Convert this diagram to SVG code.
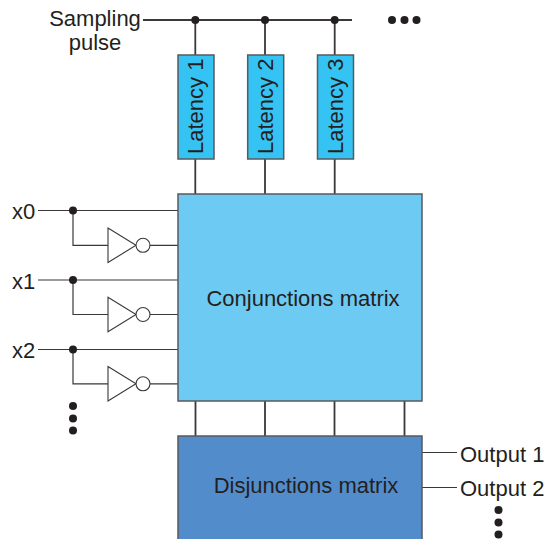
<svg xmlns="http://www.w3.org/2000/svg" width="544" height="539" viewBox="0 0 544 539">
<style>
text{font-family:"Liberation Sans",Arial,sans-serif;font-size:22px;fill:#231f20}
.w{fill:none;stroke:#3a3839;stroke-width:1.8}
.t{fill:none;stroke:#3a3839;stroke-width:1.2}
.d{fill:#231f20;stroke:none}
.l{fill:#35c3f3;stroke:#58595b;stroke-width:1.5}
.g{fill:#fff;stroke:#3a3839;stroke-width:1.1}
</style>
<defs>
<g id="inv"><path class="g" d="M108 228V262.500L136 245.300Z"/><circle class="g" cx="143" cy="245.300" r="7"/></g>
</defs>
<g id="connectors">
<path class="w" d="M143 20H352M195.300 20V55M265 20V55M334.700 20V55M195.300 159V194M265 159V194M334.700 159V194"/>
<path class="t" d="M38 210.500H178M73 210.500V245.300H108M150 245.300H178M38 280H178M73 280V314.500H108M150 314.500H178M38 349.500H178M73 349.500V383.800H108M150 383.800H178M422 452.500H457M422 487.500H457"/>
<path class="w" d="M195.500 401V436M265 401V436M334.500 401V436M404.500 401V436"/>
<g class="d">
<circle cx="195.300" cy="20" r="4"/><circle cx="265" cy="20" r="4"/><circle cx="334.700" cy="20" r="4"/>
<circle cx="73" cy="210.500" r="4"/><circle cx="73" cy="280" r="4"/><circle cx="73" cy="349.500" r="4"/>
</g>
</g>
<g id="sampling"><text x="95" y="25.500" text-anchor="middle">Sampling</text><text x="95" y="50" text-anchor="middle">pulse</text></g>
<g id="latency1"><rect class="l" x="178" y="55" width="36" height="104"/><text transform="translate(203,154) rotate(-90)">Latency 1</text></g>
<g id="latency2"><rect class="l" x="247.700" y="55" width="36" height="104"/><text transform="translate(272.700,154) rotate(-90)">Latency 2</text></g>
<g id="latency3"><rect class="l" x="317.500" y="55" width="36" height="104"/><text transform="translate(342.500,154) rotate(-90)">Latency 3</text></g>
<g id="conjunctions"><rect x="178" y="194" width="244" height="207" fill="#6dcaf2" stroke="#58595b" stroke-width="1.5"/><text x="303" y="306" text-anchor="middle">Conjunctions matrix</text></g>
<g id="disjunctions"><rect x="178" y="436" width="244" height="110" fill="#538ccb" stroke="#58595b" stroke-width="1.5"/><text x="306" y="493" text-anchor="middle">Disjunctions matrix</text></g>
<g id="x0"><text x="12" y="219">x0</text></g>
<g id="x1"><text x="12" y="288.500">x1</text></g>
<g id="x2"><text x="12" y="358">x2</text></g>
<g id="inverter0"><use href="#inv"/></g>
<g id="inverter1"><use href="#inv" y="69.200"/></g>
<g id="inverter2"><use href="#inv" y="138.500"/></g>
<g id="output1"><text x="460" y="461.500">Output 1</text></g>
<g id="output2"><text x="460" y="496">Output 2</text></g>
<g id="ellipsis" class="d">
<circle cx="392" cy="20" r="4"/><circle cx="404.500" cy="20" r="4"/><circle cx="416.500" cy="20" r="4"/>
<circle cx="73" cy="406" r="4"/><circle cx="73" cy="418.500" r="4"/><circle cx="73" cy="430.500" r="4"/>
<circle cx="498.500" cy="510" r="4"/><circle cx="498.500" cy="522.500" r="4"/><circle cx="498.500" cy="534.500" r="4"/>
</g>
</svg>
